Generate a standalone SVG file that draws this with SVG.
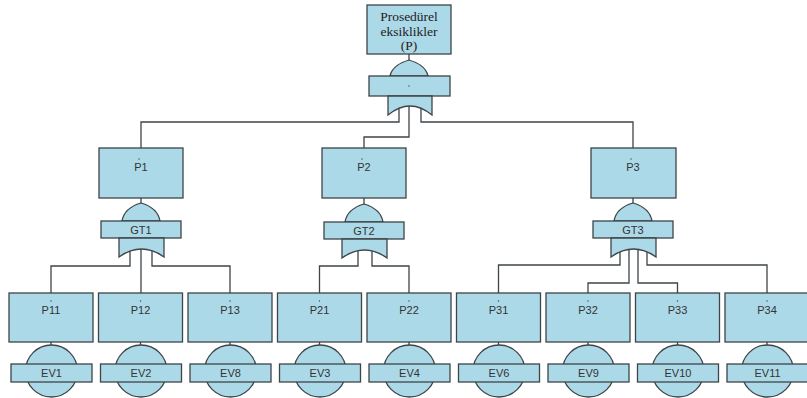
<svg xmlns="http://www.w3.org/2000/svg" xmlns:xlink="http://www.w3.org/1999/xlink" width="807" height="398" viewBox="0 0 807 398">
<style>
.n{fill:#acd9e8;stroke:#3e4448;stroke-width:1.3}
.c{fill:none;stroke:#3e4448;stroke-width:1.3}
.t{font-family:"Liberation Sans",Arial,sans-serif;font-size:11px;fill:#333;text-anchor:middle}
.s{font-family:"Liberation Serif","Times New Roman",serif;font-size:13.5px;fill:#222;text-anchor:middle}
.d{fill:#444}
</style>
<defs>
<g id="gate">
<path class="n" d="M-19,18 C-17,7 -7,2 0,0 C7,2 17,7 19,18 Z"/>
<rect class="n" x="-40" y="18" width="80" height="17"/>
<path class="n" d="M-22,35 L-22,54 Q0.5,38 23,54 L23,35 Z"/>
</g>
</defs>
<g id="connectors">
<path class="c" d="M409,54 V60"/>
<path class="c" d="M399,108 V122 H141 V148"/>
<path class="c" d="M421,108 V122 H633 V148"/>
<path class="c" d="M409,106 V137 H364 V148"/>
<path class="c" d="M141,198 V203 M364,198 V204 M633,198 V203"/>
<path class="c" d="M130,250 V266 H51 V293"/>
<path class="c" d="M141,248 V293"/>
<path class="c" d="M152,250 V266 H230 V293"/>
<path class="c" d="M358,251 V266 H319.5 V293"/>
<path class="c" d="M372,251 V266 H409 V293"/>
<path class="c" d="M620,250 V265 H498.5 V293"/>
<path class="c" d="M629,248 V283 H588 V293"/>
<path class="c" d="M638,248 V283 H677.5 V293"/>
<path class="c" d="M647,250 V265 H767 V293"/>
<path class="c" d="M51,342 V345 M140.5,342 V345 M230,342 V345 M319.5,342 V345 M409,342 V345 M498.5,342 V345 M588,342 V345 M677.5,342 V345 M767,342 V345"/>
</g>
<g id="P">
<rect class="n" x="367" y="5" width="84" height="49"/>
<text class="s" x="409" y="21">Prosedürel</text>
<text class="s" x="409" y="36">eksiklikler</text>
<text class="s" x="409" y="50">(P)</text>
</g>
<g id="G0">
<path class="n" d="M390,76 C392,67 402,62 409,60 C416,62 426,67 428,76 Z"/>
<rect class="n" x="369" y="76" width="81" height="20"/>
<path class="n" d="M388,96 L388,115 Q410,97 432,115 L432,96 Z"/>
<circle class="d" cx="409" cy="86" r="0.7"/>
</g>
<g id="P1">
<rect class="n" x="99" y="148" width="84" height="50"/>
<circle class="d" cx="139" cy="159" r="0.7"/>
<text class="t" x="141" y="171">P1</text>
</g>
<g id="P2">
<rect class="n" x="322" y="148" width="84" height="50"/>
<circle class="d" cx="362" cy="159" r="0.7"/>
<text class="t" x="364" y="171">P2</text>
</g>
<g id="P3">
<rect class="n" x="591" y="148" width="85" height="50"/>
<circle class="d" cx="631" cy="159" r="0.7"/>
<text class="t" x="633" y="171">P3</text>
</g>
<g id="GT1">
<use xlink:href="#gate" x="141" y="203"/>
<text class="t" x="141" y="234">GT1</text>
</g>
<g id="GT2">
<use xlink:href="#gate" x="364" y="204"/>
<text class="t" x="364" y="235">GT2</text>
</g>
<g id="GT3">
<use xlink:href="#gate" x="633" y="203"/>
<text class="t" x="633" y="234">GT3</text>
</g>
<g id="P11"><rect class="n" x="9" y="293" width="84" height="49"/><circle class="d" cx="51" cy="301" r="0.7"/><text class="t" x="51" y="314">P11</text></g>
<g id="P12"><rect class="n" x="98.5" y="293" width="84" height="49"/><circle class="d" cx="140.5" cy="301" r="0.7"/><text class="t" x="140.5" y="314">P12</text></g>
<g id="P13"><rect class="n" x="188" y="293" width="84" height="49"/><circle class="d" cx="230" cy="301" r="0.7"/><text class="t" x="230" y="314">P13</text></g>
<g id="P21"><rect class="n" x="277.5" y="293" width="84" height="49"/><circle class="d" cx="319.5" cy="301" r="0.7"/><text class="t" x="319.5" y="314">P21</text></g>
<g id="P22"><rect class="n" x="367" y="293" width="84" height="49"/><circle class="d" cx="409" cy="301" r="0.7"/><text class="t" x="409" y="314">P22</text></g>
<g id="P31"><rect class="n" x="456.5" y="293" width="84" height="49"/><circle class="d" cx="498.5" cy="301" r="0.7"/><text class="t" x="498.5" y="314">P31</text></g>
<g id="P32"><rect class="n" x="546" y="293" width="84" height="49"/><circle class="d" cx="588" cy="301" r="0.7"/><text class="t" x="588" y="314">P32</text></g>
<g id="P33"><rect class="n" x="635.5" y="293" width="84" height="49"/><circle class="d" cx="677.5" cy="301" r="0.7"/><text class="t" x="677.5" y="314">P33</text></g>
<g id="P34"><rect class="n" x="725" y="293" width="84" height="49"/><circle class="d" cx="767" cy="301" r="0.7"/><text class="t" x="767" y="314">P34</text></g>
<g id="EV1"><circle class="n" cx="51.5" cy="371" r="26"/><rect class="n" x="11" y="364" width="81" height="18"/><text class="t" x="51.5" y="377">EV1</text></g>
<g id="EV2"><circle class="n" cx="141" cy="371" r="26"/><rect class="n" x="100.5" y="364" width="81" height="18"/><text class="t" x="141" y="377">EV2</text></g>
<g id="EV8"><circle class="n" cx="230.5" cy="371" r="26"/><rect class="n" x="190" y="364" width="81" height="18"/><text class="t" x="230.5" y="377">EV8</text></g>
<g id="EV3"><circle class="n" cx="320" cy="371" r="26"/><rect class="n" x="279.5" y="364" width="81" height="18"/><text class="t" x="320" y="377">EV3</text></g>
<g id="EV4"><circle class="n" cx="409.5" cy="371" r="26"/><rect class="n" x="369" y="364" width="81" height="18"/><text class="t" x="409.5" y="377">EV4</text></g>
<g id="EV6"><circle class="n" cx="499" cy="371" r="26"/><rect class="n" x="458.5" y="364" width="81" height="18"/><text class="t" x="499" y="377">EV6</text></g>
<g id="EV9"><circle class="n" cx="588.5" cy="371" r="26"/><rect class="n" x="548" y="364" width="81" height="18"/><text class="t" x="588.5" y="377">EV9</text></g>
<g id="EV10"><circle class="n" cx="678" cy="371" r="26"/><rect class="n" x="637.5" y="364" width="81" height="18"/><text class="t" x="678" y="377">EV10</text></g>
<g id="EV11"><circle class="n" cx="767.5" cy="371" r="26"/><rect class="n" x="727" y="364" width="81" height="18"/><text class="t" x="767.5" y="377">EV11</text></g>
</svg>
